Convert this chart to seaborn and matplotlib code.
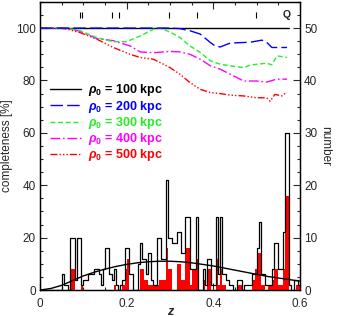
import numpy as np
import pandas as pd
import seaborn as sns
import matplotlib
matplotlib.use("Agg")
import matplotlib.pyplot as plt
from matplotlib.ticker import MultipleLocator

# histogram counts, bins of 0.005 in z from 0 to 0.6
bin_width = 0.005
all_counts = [0] * 10 + [
    3, 1, 1, 0, 10, 10, 2, 10, 10, 1,
    2, 2, 3, 3, 3, 4, 4, 3, 1, 4,
    8, 8, 3, 2, 4, 1, 0, 1, 2, 8,
    8, 3, 3, 0, 0, 5, 9, 6, 6, 3,
    7, 2, 1, 1, 10, 10, 6, 6, 21, 10,
    10, 9, 9, 11, 11, 7, 7, 14, 14, 4,
    4, 4, 14, 0, 0, 4, 1, 6, 6, 1,
    1, 14, 3, 14, 3, 3, 2, 1, 1, 0,
    0, 2, 2, 0, 1, 1, 1, 1, 3, 3,
    8, 13, 3, 3, 1, 1, 1, 4, 9, 9,
    4, 4, 11, 30, 30, 1, 0, 2, 2, 1,
]
sel_counts = [0] * 14 + [
    4, 4, 0, 0, 0, 1, 0, 0, 0, 0,
    0, 0, 0, 0, 0, 0, 0, 0, 0, 0,
    1, 0, 0, 0, 1, 4, 6, 0, 0, 0,
    0, 0, 4, 4, 2, 2, 1, 1, 1, 1,
    1, 2, 2, 2, 8, 4, 4, 0, 0, 5,
    5, 2, 2, 8, 8, 1, 4, 4, 6, 0,
    0, 2, 0, 4, 4, 0, 0, 6, 1, 4,
    1, 1, 0, 0, 0, 0, 0, 1, 1, 0,
    0, 0, 0, 0, 2, 4, 7, 7, 1, 1,
    0, 1, 1, 2, 4, 4, 1, 1, 4, 18,
    18, 0, 0, 0, 1, 1,
]

# expected number curve
z_model = [0, .025, .05, .075, .1, .125, .15, .175, .2, .225, .25, .275, .3,
           .325, .35, .375, .4, .425, .45, .475, .5, .525, .55, .575, .6]
n_model = [0, 0.3, 0.9, 1.8, 2.7, 3.4, 4.0, 4.5, 4.9, 5.2, 5.4, 5.5, 5.5,
           5.4, 5.2, 4.9, 4.6, 4.2, 3.8, 3.4, 3.0, 2.6, 2.3, 2.0, 1.7]

# completeness curves
z_100 = [0, 0.575]
c_100 = [100, 100]
z_200 = [0, 0.30, 0.323, 0.346, 0.37, 0.393, 0.404, 0.416, 0.439, 0.485,
         0.512, 0.523, 0.535, 0.57]
c_200 = [100, 100, 99.8, 99, 97.7, 94.5, 93.2, 92.8, 94.3, 94.6,
         95.4, 94.6, 92.6, 92.6]
z_300 = [0, 0.062, 0.092, 0.131, 0.169, 0.2, 0.231, 0.262, 0.277, 0.30,
         0.323, 0.346, 0.37, 0.393, 0.416, 0.439, 0.47, 0.485, 0.523, 0.535,
         0.547, 0.57]
c_300 = [100, 100, 99, 96.4, 94.8, 94.8, 97, 99.6, 100, 98.5,
         96.4, 93.2, 90.7, 87.5, 86.2, 85.6, 84.9, 85.9, 86.6, 86.0,
         89.4, 88.8]
z_400 = [0, 0.062, 0.092, 0.131, 0.169, 0.208, 0.231, 0.262, 0.30, 0.323,
         0.346, 0.37, 0.393, 0.416, 0.439, 0.47, 0.50, 0.523, 0.546, 0.57]
c_400 = [100, 100, 98.8, 96, 95.2, 93.2, 90.9, 90.6, 91.1, 90.9,
         90, 88.1, 85.6, 84.3, 82.4, 79.8, 79.8, 79.4, 80.5, 80.5]
z_500 = [0, 0.046, 0.062, 0.092, 0.131, 0.169, 0.208, 0.231, 0.262, 0.285,
         0.30, 0.323, 0.346, 0.37, 0.393, 0.416, 0.439, 0.47, 0.50, 0.523,
         0.531, 0.542, 0.558, 0.57]
c_500 = [100, 100, 99.6, 98.3, 95.8, 92.6, 90, 88.8, 88.1, 86.2,
         84.9, 82.4, 79.2, 76.6, 75.4, 75, 74.4, 74.1, 73.4, 73.4,
         72.1, 74.7, 74.1, 75.6]

# marks along the top
mark_z = [0.092, 0.097, 0.167, 0.182, 0.298, 0.363, 0.498]

sns.set_style("ticks")
plt.rcParams["font.family"] = ["Liberation Sans", "DejaVu Sans"]
plt.rcParams["mathtext.fontset"] = "custom"
plt.rcParams["mathtext.it"] = "Liberation Sans:italic:bold"
plt.rcParams["mathtext.rm"] = "Liberation Sans:bold"

fig = plt.figure(figsize=(3.39, 3.17), dpi=100)
ax = fig.add_axes([0.118, 0.085, 0.767, 0.909])
ax2 = ax.twinx()

centers = np.arange(len(all_counts)) * bin_width + bin_width / 2
hist = pd.DataFrame({"z": centers, "all": all_counts, "sel": sel_counts})

sns.histplot(data=hist, x="z", weights="sel", binwidth=bin_width,
             binrange=(0, 0.6), element="bars", fill=True, color="red",
             alpha=1, linewidth=0, ax=ax2)
sns.histplot(data=hist, x="z", weights="all", binwidth=bin_width,
             binrange=(0, 0.6), element="step", fill=False, color="black",
             linewidth=0.9, ax=ax2)
sns.lineplot(x=z_model, y=n_model, color="black", linewidth=1.0, ax=ax2)

curves = [
    (z_100, c_100, "black", "-", "100"),
    (z_500, c_500, "red", (0, (5, 1.5, 1, 1.5, 1, 1.5, 1, 1.5)), "500"),
    (z_400, c_400, "magenta", (0, (7, 2, 1.2, 2)), "400"),
    (z_300, c_300, "#22ee22", (0, (3.5, 2)), "300"),
    (z_200, c_200, "blue", (0, (9, 3)), "200"),
]
handles = {}
for zz, cc, col, ls, lab in curves:
    sns.lineplot(x=zz, y=cc, color=col, linestyle=ls, linewidth=1.0, ax=ax)
    handles[lab] = ax.lines[-1]

order = ["100", "200", "300", "400", "500"]
leg = ax.legend([handles[k] for k in order],
                [r"$\rho_0$ = %s kpc" % k for k in order],
                loc="upper left", bbox_to_anchor=(0.0, 0.755), frameon=False,
                fontsize=9, handlelength=2.5, handletextpad=0.5,
                labelspacing=0.02, borderaxespad=0.4)
for txt, line in zip(leg.get_texts(), leg.get_lines()):
    txt.set_color(line.get_color())
    txt.set_fontweight("semibold")

ax.vlines(mark_z, 103.7, 106.2, color="black", linewidth=0.8)
ax.text(0.570, 104.9, "Q", ha="center", va="center", fontsize=7.5,
        fontweight="bold")

ax.set_xlim(0, 0.6)
ax.set_ylim(0, 110)
ax2.set_ylim(0, 55)
ax.set_xticks([0, 0.2, 0.4, 0.6])
ax.set_xticklabels(["0", "0.2", "0.4", "0.6"])
ax.xaxis.set_minor_locator(MultipleLocator(0.05))
ax.yaxis.set_major_locator(MultipleLocator(20))
ax.yaxis.set_minor_locator(MultipleLocator(5))
ax2.yaxis.set_major_locator(MultipleLocator(10))
ax2.yaxis.set_minor_locator(MultipleLocator(2.5))

ax.tick_params(axis="x", which="both", direction="in", top=True, bottom=True)
ax.tick_params(axis="y", which="both", direction="in", left=True, right=False)
ax2.tick_params(axis="y", which="both", direction="in", right=True)
for a in (ax, ax2):
    a.tick_params(which="major", length=5, width=0.8, labelsize=8.5, pad=3)
    a.tick_params(which="minor", length=2.5, width=0.8)
    for s in a.spines.values():
        s.set_visible(True)
        s.set_linewidth(0.9)
        s.set_color("black")
ax.tick_params(axis="x", which="major", pad=6)

ax.set_xlabel("z", fontsize=9, fontstyle="italic", fontweight="bold",
              labelpad=-3)
ax.set_ylabel("completeness [%]", fontsize=8.5, labelpad=2)
ax2.set_ylabel("number", fontsize=8.5, rotation=270, labelpad=10)

fig.savefig("out.png", dpi=100)
